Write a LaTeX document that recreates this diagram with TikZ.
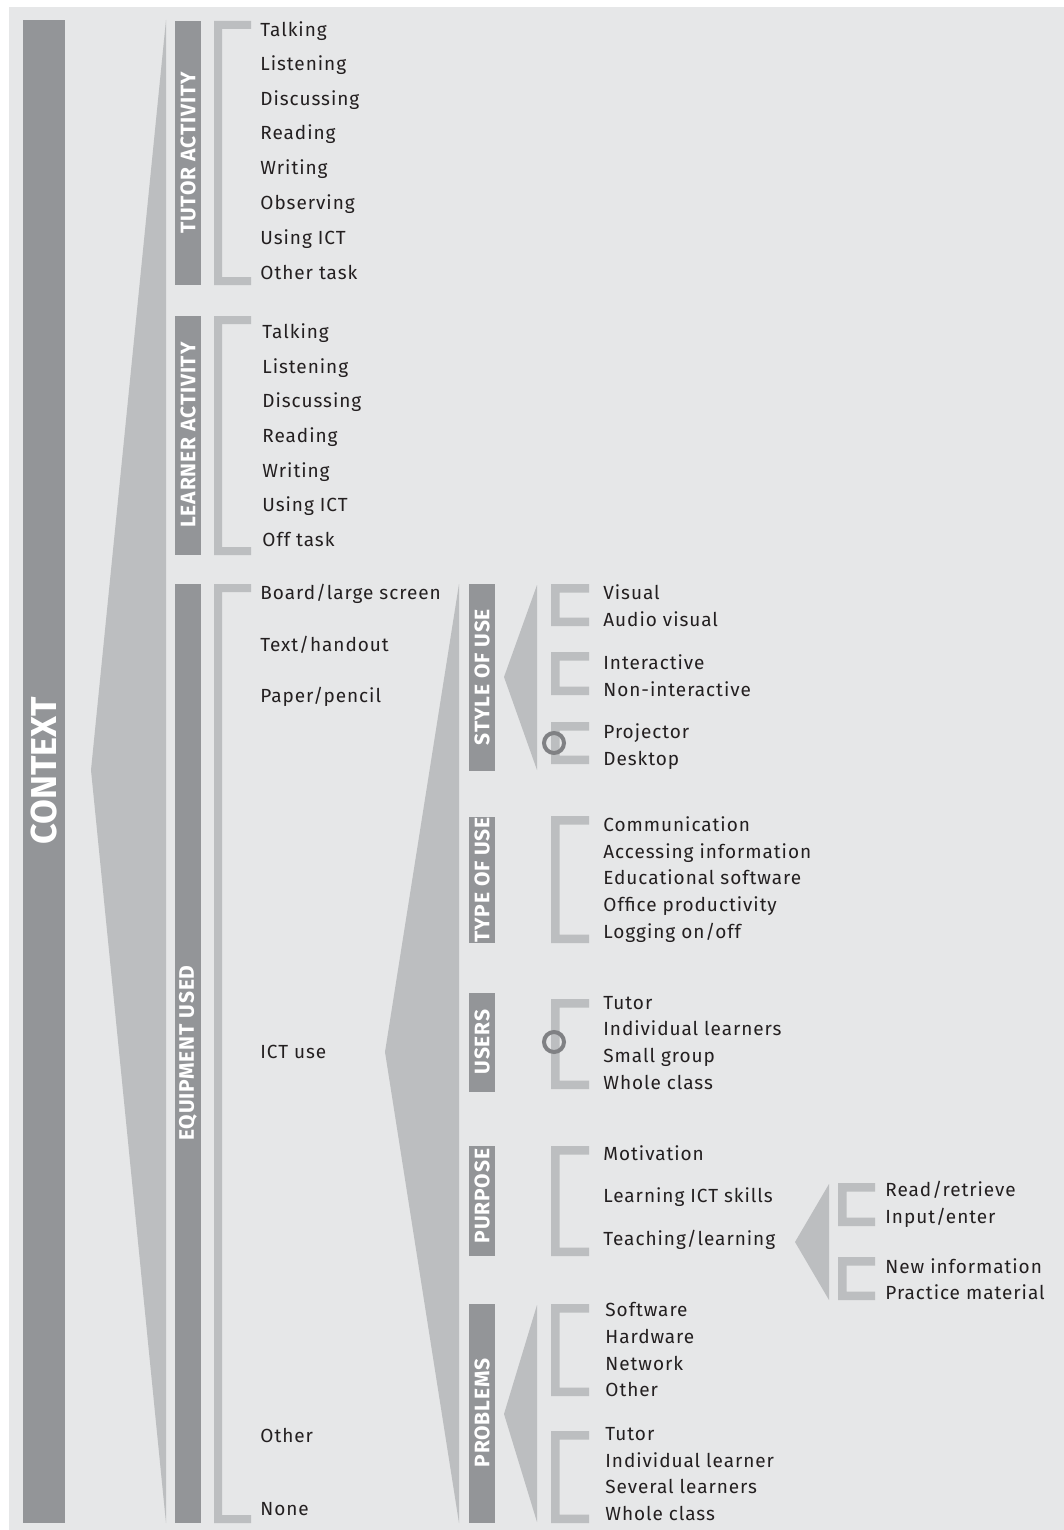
\documentclass[tikz,border=0pt]{standalone}
\usepackage{fontspec}
\setmainfont{Fira Sans}
\newfontfamily\itemfont[LetterSpace=5]{Fira Sans}
\newfontfamily\labfont[LetterSpace=4]{Fira Sans}
\definecolor{bg}{HTML}{E6E7E8}
\definecolor{dk}{HTML}{939598}
\definecolor{lt}{HTML}{BCBEC0}
\definecolor{circ}{HTML}{808184}
\definecolor{txt}{HTML}{231F20}
\newcommand\mybrk[5]{% x1,x2,top,bottom,thickness
  \fill[lt] (#1,#3) rectangle ({#2},{#3+#5})
            (#1,#3) rectangle ({#1+#5},#4)
            (#1,{#4-#5}) rectangle (#2,#4);}
\begin{document}
\begin{tikzpicture}[x=0.5pt,y=-0.5pt,
  item/.style={anchor=base west,inner sep=0pt,text=txt,font=\itemfont\fontsize{9.5}{10}\selectfont},
  lab/.style={rotate=90,text=white,font=\labfont\bfseries\fontsize{10.5}{12}\selectfont,inner sep=0pt},
  wedge/.style={fill=lt},
  bar/.style={fill=dk},
  ring/.style={draw=circ,line width=2pt}]
\useasboundingbox (0,0) rectangle (1064,1530);
\fill[white] (0,0) rectangle (1064,1530);
\fill[bg] (9,7) rectangle (1064,1530);

% CONTEXT
\fill[bar] (23,20) rectangle (65,1523);
\node[lab,font=\bfseries\fontsize{18}{20}\selectfont] (context) at (44,771) {CONTEXT};
\fill[wedge] (166,20) -- (91,770) -- (166,1523) -- cycle;

% Tutor activity
\fill[bar] (175,21) rectangle (201,285);
\node[lab] (tutor) at (188,153) {TUTOR ACTIVITY};
\mybrk{214}{251}{21}{285}{8}
\foreach \t/\y [count=\i] in {Talking/31,Listening/65,Discussing/100,Reading/134,Writing/169,Observing/204,Using ICT/238,Other task/273}
  \node[item] (ta\i) at (260,{\y+6}) {\t};

% Learner activity
\fill[bar] (175,316) rectangle (201,555);
\node[lab] (learner) at (188,435) {LEARNER ACTIVITY};
\mybrk{214}{251}{316}{555}{8}
\foreach \t/\y [count=\i] in {Talking/332,Listening/367,Discussing/401,Reading/436,Writing/471,Using ICT/505,Off task/540}
  \node[item] (la\i) at (262,{\y+6}) {\t};

% Equipment used
\fill[bar] (175,584) rectangle (201,1523);
\node[lab] (equip) at (188,1053) {EQUIPMENT USED};
\mybrk{214}{251}{584}{1523}{8}
\foreach \t/\y [count=\i] in {{Board/large screen}/593,{Text/handout}/645,{Paper/pencil}/696,ICT use/1052,Other/1436,None/1509}
  \node[item] (eq\i) at (260,{\y+6}) {\t};

% ICT wedge
\fill[wedge] (459,584) -- (385,1052) -- (459,1523) -- cycle;

% Style of use
\fill[wedge] (537,585) -- (504,677) -- (537,770) -- cycle;
\fill[bar] (469,584) rectangle (495,771);
\node[lab] (style) at (482,677) {STYLE OF USE};
\mybrk{551}{589}{584}{626}{8.5}
\mybrk{551}{589}{652}{695}{8.5}
\mybrk{551}{589}{722}{764}{8.5}
\draw[ring] (554,743) circle (10);
\foreach \t/\y [count=\i] in {Visual/593,Audio visual/620,Interactive/663,Non-interactive/690,Projector/732,Desktop/759}
  \node[item] (su\i) at (603,{\y+6}) {\t};

% Type of use
\fill[bar] (469,817) rectangle (495,943);
\node[lab] (type) at (482,880) {TYPE OF USE};
\mybrk{551}{589}{816}{943}{8.5}
\foreach \t/\y [count=\i] in {Communication/825,Accessing information/852,Educational software/878,Office productivity/905,{Logging on/off}/932}
  \node[item] (tu\i) at (603,{\y+6}) {\t};

% Users
\fill[bar] (469,993) rectangle (495,1092);
\node[lab] (users) at (482,1042) {USERS};
\mybrk{551}{589}{999}{1089}{8.5}
\draw[ring] (554,1042) circle (10);
\foreach \t/\y [count=\i] in {Tutor/1003,Individual learners/1029,Small group/1056,Whole class/1083}
  \node[item] (us\i) at (603,{\y+6}) {\t};

% Purpose
\fill[bar] (469,1146) rectangle (495,1256);
\node[lab] (purpose) at (482,1196) {PURPOSE};
\mybrk{551}{589}{1146}{1256}{8.5}
\foreach \t/\y [count=\i] in {Motivation/1154,Learning ICT skills/1196,{Teaching/learning}/1239}
  \node[item] (pu\i) at (603,{\y+6}) {\t};
\fill[wedge] (829,1184) -- (795,1242) -- (829,1300) -- cycle;
\mybrk{838}{875}{1183}{1226}{8.5}
\mybrk{838}{875}{1257}{1300}{8.5}
\foreach \t/\y [count=\i] in {{Read/retrieve}/1190,{Input/enter}/1217,New information/1267,Practice material/1293}
  \node[item] (tl\i) at (885,{\y+6}) {\t};

% Problems
\fill[wedge] (537,1305) -- (504,1414) -- (537,1522) -- cycle;
\fill[bar] (469,1304) rectangle (495,1523);
\node[lab] (problems) at (482,1413) {PROBLEMS};
\mybrk{551}{589}{1304}{1396}{8.5}
\mybrk{551}{589}{1431}{1523}{8.5}
\foreach \t/\y [count=\i] in {Software/1310,Hardware/1337,Network/1364,Other/1390,Tutor/1434,Individual learner/1461,Several learners/1487,Whole class/1514}
  \node[item] (pr\i) at (605,{\y+6}) {\t};
\end{tikzpicture}
\end{document}
